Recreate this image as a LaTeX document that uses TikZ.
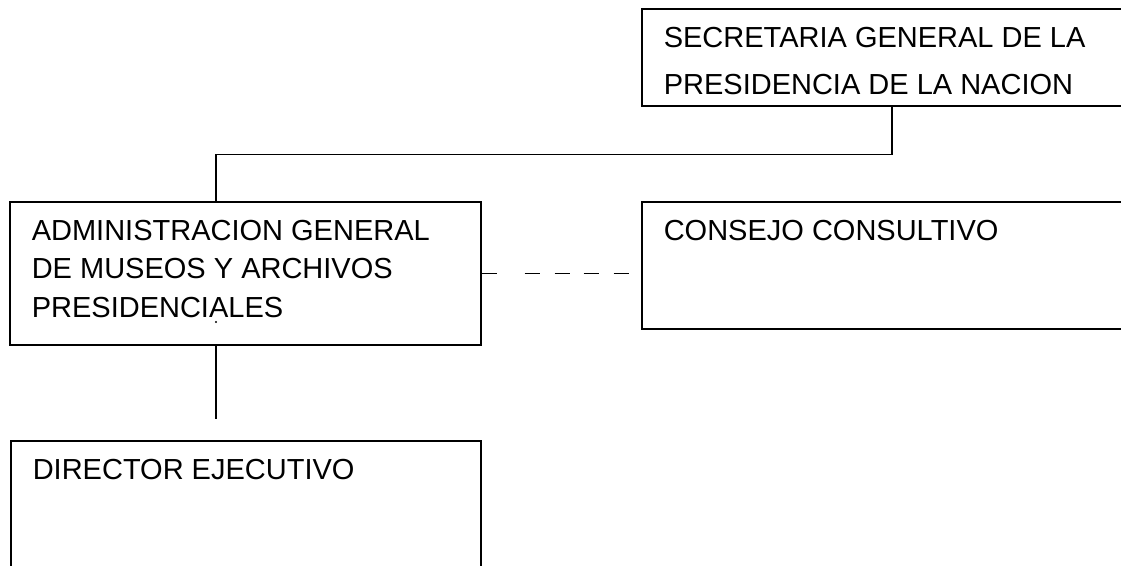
\documentclass[tikz,border=0pt]{standalone}
\usepackage{fontspec}
\setmainfont{Liberation Sans}
\usepackage{tikz}
\usetikzlibrary{shapes,arrows,positioning}

\tikzset{unit/.style={draw, rectangle, anchor=north west, inner xsep=16.5pt, inner ysep=13.5pt, line width=1.2pt}}

\begin{document}
\begin{tikzpicture}[x=0.75pt, y=-0.75pt, font=\fontsize{21.75}{28.9}\selectfont, line width=1.2pt]
    \clip (0,0) rectangle (1121,565);
    \node[unit] (sgp) at (641,8) {\parbox[t][45.75pt][t]{342pt}{\fontsize{21.75}{35.25}\selectfont SECRETARIA GENERAL DE LA\\ PRESIDENCIA DE LA NACION}};
    \node[unit] (amap) at (9,201) {\parbox[t][80.25pt][t]{320.25pt}{ADMINISTRACION GENERAL\\ DE MUSEOS Y ARCHIVOS\\ PRESIDENCIALES}};
    \node[unit] (cc) at (641,201) {\parbox[t][68.25pt][t]{342pt}{CONSEJO CONSULTIVO}};
    \node[unit] (de) at (10,440) {\parbox[t][93pt][t]{319.5pt}{DIRECTOR EJECUTIVO}};

    \coordinate (trunk) at (216,0);
    \draw (sgp.south) -- ++(0,48) -| (trunk |- amap.north);
    \draw (trunk |- amap.south) -- ++(0,73) coordinate (stub);
    \draw[dash pattern={on 11.25pt off 21pt on 11.25pt off 11.25pt on 11.25pt off 10.5pt on 11.25pt off 11.25pt on 11.25pt off 10.5pt}] (amap.east) -- (amap.east -| cc.west);
    \fill (216,322) circle (0.9pt);
\end{tikzpicture}
\end{document}
